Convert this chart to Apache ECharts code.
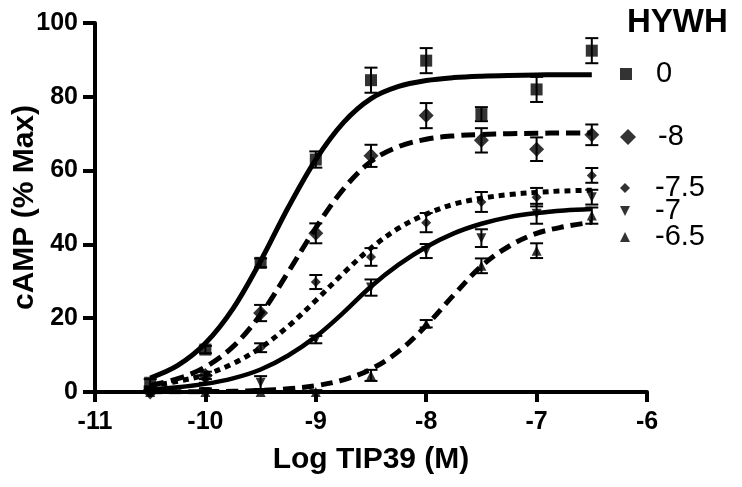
<!DOCTYPE html>
<html><head><meta charset="utf-8">
<script src="https://cdn.jsdelivr.net/npm/echarts@6/dist/echarts.min.js"></script>
<style>html,body{margin:0;padding:0;background:#fff}#c{width:742px;height:487px}</style>
</head><body><div id="c"></div>
<script>
// ---- data ----
const doses = [-10.5, -10, -9.5, -9, -8.5, -8, -7.5, -7, -6.5];
const h0      = [2.5, 11.5, 35, 63, 84.5, 89.8, 75.3, 82, 92.5];
const h0Err   = [1, 1, 1.2, 2.2, 3.4, 3.4, 1.9, 3.4, 3.4];
const hm8     = [0, 4.5, 21.4, 43, 64, 74.9, 68.2, 65.8, 69.7];
const hm8Err  = [1, 1, 2.2, 2.7, 3, 3.4, 3.3, 3.2, 2.8];
const hm75    = [0, 3.5, 12, 29.8, 36.6, 45.9, 51.5, 52.8, 58.7];
const hm75Err = [0.5, 1, 1.2, 1.9, 2.4, 2.6, 2.7, 2.5, 2];
const hm7     = [0, 0, 2.5, 14.2, 28.3, 38.2, 41.7, 48.3, 52.8];
const hm7Err  = [0.5, 1, 1.8, 1, 2.2, 1.9, 2.4, 2.7, 2];
const hm65    = [0, 0, 0, 0, 4.5, 18.5, 34.2, 38.3, 47.8];
const hm65Err = [0.5, 0.5, 0.8, 0.5, 1.5, 1, 2, 2, 2.2];

// fitted curves
const curveX = [-10.5, -10.25, -10, -9.75, -9.5, -9.25, -9, -8.75, -8.5, -8.25, -8, -7.75, -7.5, -7.25, -7, -6.75, -6.5];
const fit0   = [3.8, 7.2, 13.2, 22.6, 35.5, 50, 63, 73, 79.5, 82.8, 84.4, 85.2, 85.6, 85.8, 85.9, 86, 86];
const fitm8  = [1.8, 3.6, 6.8, 12.3, 21, 32.5, 44.5, 55, 62.5, 66.5, 68.5, 69.4, 69.8, 70, 70.1, 70.2, 70.2];
const fitm75 = [1.7, 2.9, 4.7, 7.7, 12, 17.8, 24.8, 32.2, 39, 44.4, 48.2, 50.9, 52.5, 53.5, 54.1, 54.5, 54.7];
const fitm7  = [0.74, 1.3, 2.2, 3.7, 6.1, 9.9, 15, 21.5, 28.6, 34.5, 39.3, 43, 45.6, 47.4, 48.5, 49.2, 49.6];
const fitm65 = [0.03, 0.05, 0.1, 0.2, 0.43, 0.86, 1.7, 3.3, 6.2, 11, 18, 26.3, 34.1, 39.5, 43, 44.8, 46];

const seriesNames = ['0', '-8', '-7.5', '-7', '-6.5'];
const legendTitle = 'HYWH';
const xAxisTitle = 'Log TIP39 (M)';
const yAxisTitle = 'cAMP (% Max)';

// ---- styling ----
const FONT = '"Liberation Sans", Arial, Helvetica, sans-serif';
const values = [h0, hm8, hm75, hm7, hm65];
const errs = [h0Err, hm8Err, hm75Err, hm7Err, hm65Err];
const fits = [fit0, fitm8, fitm75, fitm7, fitm65];
const styles = [
  {symbol:'rect', size:12, rotate:0, dash:'solid', width:5, icon:'path://M0,0L1,0L1,1L0,1Z', iconSize:12, cy:74},
  {symbol:'diamond', size:15, rotate:0, dash:[14,7], width:5, icon:'path://M0.5,0L1,0.5L0.5,1L0,0.5Z', iconSize:16, cy:137},
  {symbol:'diamond', size:10, rotate:0, dash:[6,5], width:5, icon:'path://M0.5,0L1,0.5L0.5,1L0,0.5Z', iconSize:10, cy:188},
  {symbol:'triangle', size:10, rotate:180, dash:'solid', width:4.5, icon:'path://M0,0L1,0L0.5,1Z', iconSize:10, cy:211},
  {symbol:'triangle', size:10, rotate:0, dash:[12,7], width:5, icon:'path://M0.5,0L1,1L0,1Z', iconSize:10, cy:237}
];

const series = [];
seriesNames.forEach((name, k) => {
  const st = styles[k];
  series.push({
    type:'custom', name: name + ' err', z:2, silent:true, clip:false,
    data: doses.map((x,i)=>[x, values[k][i], errs[k][i]]),
    encode:{x:0, y:1},
    renderItem: function(params, api){
      const x = api.value(0), y = api.value(1), e = api.value(2);
      const top = api.coord([x, y + e]);
      const bot = api.coord([x, Math.max(0, y - e)]);
      const hw = 6.5;
      const s = {stroke:'#000', lineWidth:2, fill:null};
      return {type:'group', children:[
        {type:'line', shape:{x1:top[0], y1:top[1], x2:bot[0], y2:bot[1]}, style:s},
        {type:'line', shape:{x1:top[0]-hw, y1:top[1], x2:top[0]+hw, y2:top[1]}, style:s},
        {type:'line', shape:{x1:bot[0]-hw, y1:bot[1], x2:bot[0]+hw, y2:bot[1]}, style:s}
      ]};
    }
  });
  series.push({
    type:'line', name: name + ' fit', z:3, silent:true,
    data: curveX.map((x,i)=>[x, fits[k][i]]),
    smooth:0.35, showSymbol:false, symbol:'none',
    lineStyle:{color:'#000', width:st.width, type:st.dash, cap:'butt', join:'round'}
  });
  series.push({
    type:'scatter', name: name, z:4, silent:true,
    data: doses.map((x,i)=>[x, values[k][i]]),
    symbol: st.symbol, symbolSize: st.size, symbolRotate: st.rotate,
    itemStyle:{color:'#000'}
  });
});

const legends = seriesNames.map((name, k) => ({
  data:[{name:name, icon:styles[k].icon}],
  left:620, top:styles[k].cy - 16, padding:0,
  itemWidth:50, itemHeight:styles[k].iconSize, symbolKeepAspect:true,
  selectedMode:false, orient:'horizontal',
  itemStyle:{color:'#000'},
  textStyle:{fontFamily:FONT, fontSize:29, color:'#000', lineHeight:32}
}));

const option = {
  animation:false,
  backgroundColor:'#fff',
  title:{text:legendTitle, left:622, top:1, textStyle:{fontFamily:FONT, fontSize:33, fontWeight:'bold', color:'#000'}},
  legend: legends,
  grid:{left:95, right:95, top:23, bottom:95, containLabel:false, outerBoundsMode:'none'},
  xAxis:{
    type:'value', min:-11, max:-6, interval:1,
    name:xAxisTitle, nameLocation:'middle', nameGap:53,
    nameTextStyle:{fontFamily:FONT, fontSize:30, fontWeight:'bold', color:'#000'},
    axisLine:{onZero:false, lineStyle:{color:'#000', width:4}},
    axisTick:{show:true, inside:false, length:10, lineStyle:{color:'#000', width:4}},
    axisLabel:{fontFamily:FONT, fontSize:25, fontWeight:'bold', color:'#000', margin:18},
    splitLine:{show:false}
  },
  yAxis:{
    type:'value', min:0, max:100, interval:20,
    name:yAxisTitle, nameLocation:'middle', nameGap:55, nameMoveOverlap:false,
    nameTextStyle:{fontFamily:FONT, fontSize:30, fontWeight:'bold', color:'#000'},
    axisLine:{show:true, lineStyle:{color:'#000', width:4}},
    axisTick:{show:true, inside:false, length:12, lineStyle:{color:'#000', width:4}},
    axisLabel:{fontFamily:FONT, fontSize:25, fontWeight:'bold', color:'#000', margin:17},
    splitLine:{show:false}
  },
  series: series
};
const chart = echarts.init(document.getElementById('c'), null, {renderer:'canvas'});
chart.setOption(option);
</script>
</body></html>
